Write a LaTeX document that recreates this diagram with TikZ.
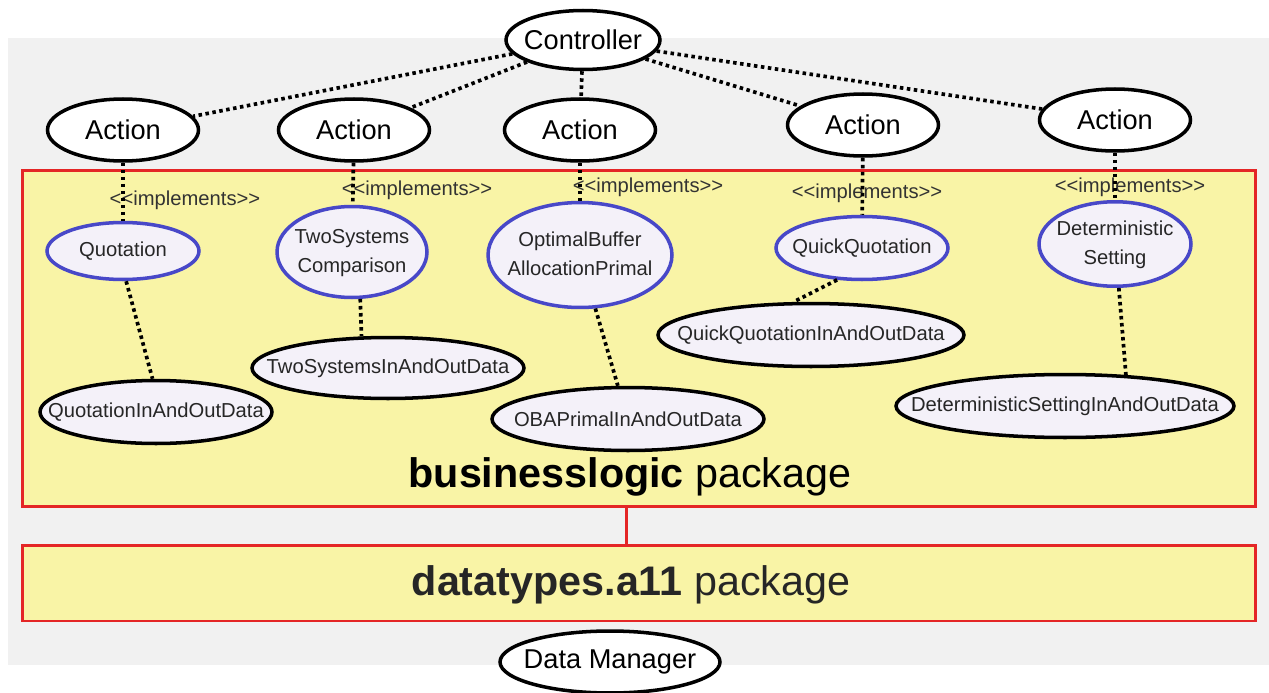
\documentclass[tikz,border=0pt]{standalone}
\usepackage{fontspec}
\setmainfont{Liberation Sans}
\usetikzlibrary{shapes.geometric}
\definecolor{bggrey}{RGB}{241,241,241}
\definecolor{pkgyellow}{RGB}{249,244,166}
\definecolor{pkgred}{RGB}{228,38,38}
\definecolor{implblue}{RGB}{72,72,200}
\definecolor{ovalfill}{RGB}{244,241,249}
\newcommand{\nowidth}[1]{\makebox[0pt]{#1}}

\begin{document}
\begin{tikzpicture}[x=0.02cm,y=-0.02cm,
    oval/.style={ellipse, draw=black, line width=2pt, fill=white, inner sep=0pt, font=\fontsize{15.5}{18}\selectfont},
    impl/.style={ellipse, draw=implblue, line width=2pt, fill=ovalfill, inner sep=0pt, font=\fontsize{11.5}{17}\selectfont, text=black!85},
    data/.style={ellipse, draw=black, line width=2pt, fill=ovalfill, inner sep=0pt, font=\fontsize{11.5}{17}\selectfont, text=black!85},
    pkg/.style={rectangle, draw=pkgred, line width=1.7pt, fill=pkgyellow, inner sep=0pt},
    stereo/.style={font=\fontsize{11.5}{14}\selectfont, text=black!80},
    link/.style={line width=2.1pt, dash pattern=on 2pt off 2pt}]
      \fill[white] (0,0) rectangle (1269,693);
      \useasboundingbox (0,0) rectangle (1269,693);
      \fill[bggrey] (8,38) rectangle (1269,665);
      % packages
      \node[pkg, minimum width=24.68cm, minimum height=6.74cm] at (639,338.5) (bl) {};
      \node[pkg, minimum width=24.68cm, minimum height=1.52cm] at (639,583) (dt) {};
      \node[font=\fontsize{23.5}{28}\selectfont] at (630,477) (blt) {\textbf{businesslogic} package};
      \node[font=\fontsize{23.5}{28}\selectfont, text=black!85] at (631,585) (dtt) {\textbf{datatypes.a11} package};
      \draw[pkgred, line width=1.7pt] ([xshift=-0.26cm]bl.south) -- ([xshift=-0.26cm]dt.north);
      % controller and actions
      \node[oval, minimum width=3.08cm, minimum height=1.18cm] at (583,40) (ctrl) {\nowidth{Controller}};
      \node[oval, minimum width=3.02cm, minimum height=1.24cm] at (123,130) (a1) {Action};
      \node[oval, minimum width=3.02cm, minimum height=1.24cm] at (354,130) (a2) {Action};
      \node[oval, minimum width=3.02cm, minimum height=1.24cm] at (580,130) (a3) {Action};
      \node[oval, minimum width=3.02cm, minimum height=1.24cm] at (863,125) (a4) {Action};
      \node[oval, minimum width=3.02cm, minimum height=1.24cm] at (1115,120) (a5) {Action};
      \node[oval, minimum width=4.4cm, minimum height=1.24cm] at (610,662) (dm) {\nowidth{Data Manager}};
      % stereotypes
      \node[stereo] at (185,200) (s1) {<{}<implements>{}>};
      \node[stereo] at (417,190) (s2) {<{}<implements>{}>};
      \node[stereo] at (648,187) (s3) {<{}<implements>{}>};
      \node[stereo] at (867,193) (s4) {<{}<implements>{}>};
      \node[stereo] at (1130,187) (s5) {<{}<implements>{}>};
      % business logic classes
      \node[impl, minimum width=3.04cm, minimum height=1.14cm] at (123,251) (q) {\nowidth{Quotation}};
      \node[impl, minimum width=3.0cm, minimum height=1.82cm] at (352,252) (ts) {\nowidth{\begin{tabular}{@{}c@{}}TwoSystems\\Comparison\end{tabular}}};
      \node[impl, minimum width=3.68cm, minimum height=2.1cm] at (580,255) (oba) {\nowidth{\begin{tabular}{@{}c@{}}OptimalBuffer\\AllocationPrimal\end{tabular}}};
      \node[impl, minimum width=3.44cm, minimum height=1.26cm] at (862,248) (qq) {\nowidth{QuickQuotation}};
      \node[impl, minimum width=3.04cm, minimum height=1.54cm] at (1115,244) (det) {\nowidth{\begin{tabular}{@{}c@{}}Deterministic\\Setting\end{tabular}}};
      % in and out data
      \node[data, minimum width=4.64cm, minimum height=1.26cm] at (156,412) (qd) {\nowidth{QuotationInAndOutData}};
      \node[data, minimum width=5.44cm, minimum height=1.22cm] at (388,368) (tsd) {\nowidth{TwoSystemsInAndOutData}};
      \node[data, minimum width=5.44cm, minimum height=1.26cm] at (628,419) (obad) {\nowidth{OBAPrimalInAndOutData}};
      \node[data, minimum width=6.12cm, minimum height=1.26cm] at (811,335) (qqd) {\nowidth{QuickQuotationInAndOutData}};
      \node[data, minimum width=6.76cm, minimum height=1.26cm] at (1065,406) (detd) {\nowidth{DeterministicSettingInAndOutData}};
      % connectors
      \draw[link] (ctrl) -- (a1);
      \draw[link] (ctrl) -- (a2);
      \draw[link] (ctrl) -- (a3);
      \draw[link] (ctrl) -- (a4);
      \draw[link] (ctrl) -- (a5);
      \draw[link] (a1) -- (q);
      \draw[link] (a2) -- (ts);
      \draw[link] (a3) -- (oba);
      \draw[link] (a4) -- (qq);
      \draw[link] (a5) -- (det);
      \draw[link] (q.-84) -- (qd.96);
      \draw[link] (ts.-80) -- (tsd.130);
      \draw[link] (oba.-74) -- (obad.107);
      \draw[link] (qq.-128) -- (qqd.118);
      \draw[link] (det.-85) -- (detd.27);
    \end{tikzpicture}
\end{document}
